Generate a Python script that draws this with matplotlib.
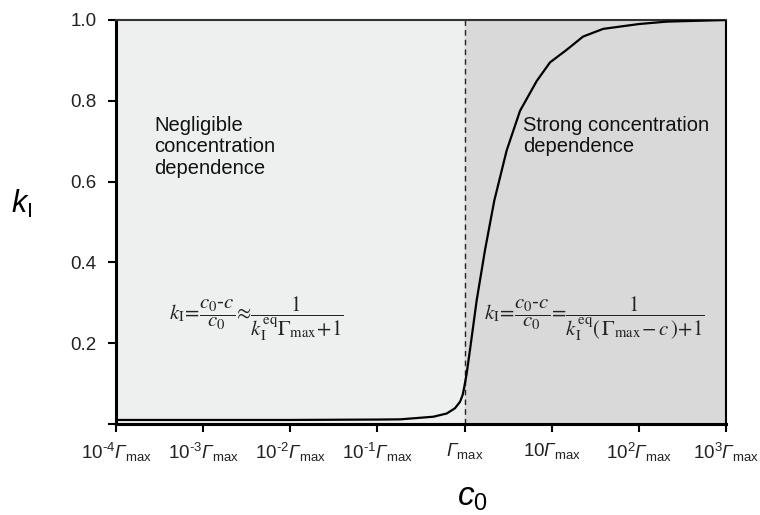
import matplotlib
matplotlib.use("Agg")
import matplotlib.pyplot as plt

plt.rcParams['font.family'] = ['Liberation Sans', 'DejaVu Sans']
plt.rcParams['mathtext.fontset'] = 'custom'
plt.rcParams['mathtext.rm'] = 'Liberation Sans'
plt.rcParams['mathtext.it'] = 'Liberation Sans:italic'
plt.rcParams['mathtext.sf'] = 'Liberation Sans:italic'
plt.rcParams['mathtext.bf'] = 'Liberation Sans:bold'

# data (c0 in units of Gamma_max)
c0_values = [1e-4, 1e-3, 1e-2, 0.1, 0.182, 0.438, 0.624, 0.776, 0.887, 0.951,
             0.993, 1.057, 1.153, 1.377, 1.714, 2.193, 3.04, 4.325, 6.73,
             9.55, 14.8, 22.9, 38.9, 100, 209, 1000]
k_values = [0.010, 0.010, 0.010, 0.011, 0.0115, 0.018, 0.026, 0.039, 0.055, 0.072,
            0.092, 0.125, 0.183, 0.306, 0.430, 0.553, 0.677, 0.775, 0.849,
            0.895, 0.926, 0.959, 0.978, 0.990, 0.996, 1.0]

x_ticks = [1e-4, 1e-3, 1e-2, 1e-1, 1, 10, 100, 1000]
G = r'\mathsf{\Gamma}_{\mathrm{max}}'
x_ticklabels = ['$10^{\\text{-}4}' + G + '$', '$10^{\\text{-}3}' + G + '$',
                '$10^{\\text{-}2}' + G + '$', '$10^{\\text{-}1}' + G + '$',
                '$' + G + '$', '$10' + G + '$',
                '$10^{2}' + G + '$', '$10^{3}' + G + '$']
y_ticks = [0, 0.2, 0.4, 0.6, 0.8, 1.0]
y_ticklabels = ['', '0.2', '0.4', '0.6', '0.8', '1.0']

fig = plt.figure(figsize=(7.6, 5.15), dpi=100)
ax = fig.add_axes([116/760, 1-424/515, 610/760, 404/515])
ax.set_xscale('log')
ax.set_xlim(1e-4, 1e3)
ax.set_ylim(0, 1.0)

ax.axvspan(1e-4, 1, color='#eeefef', zorder=0)
ax.axvspan(1, 1e3, color='#d9d9d9', zorder=0)
ax.axvline(1, color='#222222', lw=1.0, ls=(0, (4, 3)), zorder=2)

ax.plot(c0_values, k_values, color='black', lw=1.6, zorder=3)

ax.set_xticks(x_ticks)
ax.set_xticklabels(x_ticklabels, fontsize=13.5, color='#222222')
ax.minorticks_off()
ax.set_yticks(y_ticks)
ax.set_yticklabels(y_ticklabels, fontsize=13.5, color='#222222')
ax.tick_params(direction='out', length=6, width=1.5)
ax.tick_params(axis='x', pad=6)
ax.tick_params(axis='y', pad=8)

for s in ['left', 'bottom']:
    ax.spines[s].set_linewidth(2.2)
    ax.spines[s].set_color('black')
ax.spines['top'].set_linewidth(1.5)
ax.spines['top'].set_color('#333333')
ax.spines['right'].set_linewidth(1.5)
ax.spines['right'].set_color('black')


def fig_px(x, y):
    return (x / 760, 1 - y / 515)


fig.text(*fig_px(11, 213), r'$k_{\mathrm{I}}$', fontsize=22, ha='left', va='baseline')
fig.text(*fig_px(457, 506), r'$c_{0}$', fontsize=24, ha='left', va='baseline')

fig.text(*fig_px(154, 116), 'Negligible\nconcentration\ndependence', fontsize=14.5,
         va='top', ha='left', color='#111111', linespacing=1.15)
fig.text(*fig_px(523, 116), 'Strong concentration\ndependence', fontsize=14.5,
         va='top', ha='left', color='#111111', linespacing=1.15)

fig.text(*fig_px(256, 319),
         r'$k_{\mathrm{I}}\!=\!\dfrac{c_0\text{-}c}{c_0}\!\approx\!\dfrac{1}{k_{\mathrm{I}}^{\mathrm{eq}}\Gamma_{\mathrm{max}}\!+\!1}$',
         fontsize=15, ha='center', va='center', math_fontfamily='stix', color='#222222')
fig.text(*fig_px(594, 319),
         r'$k_{\mathrm{I}}\!=\!\dfrac{c_0\text{-}c}{c_0}\!=\!\dfrac{1}{k_{\mathrm{I}}^{\mathrm{eq}}(\,\Gamma_{\mathrm{max}}\!-c\,)\!+\!1}$',
         fontsize=15, ha='center', va='center', math_fontfamily='stix', color='#222222')

fig.savefig('out.png', dpi=100)
